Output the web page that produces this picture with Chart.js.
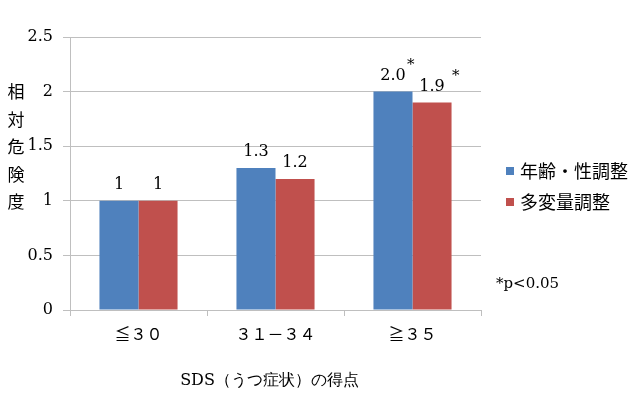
<!DOCTYPE html>
<html><head><meta charset="utf-8">
<script src="https://cdn.jsdelivr.net/npm/chart.js@4"></script>
<style>html,body{margin:0;padding:0;background:#fff}#wrap{width:640px;height:408px}</style>
</head><body><div id="wrap"><canvas id="c" width="640" height="408"></canvas></div>
<script>
const categories = ['≦３０', '３１－３４', '≧３５'];
const seriesNames = ['年齢・性調整', '多変量調整'];
const ageSexValues = [1, 1.3, 2.0];
const multiValues = [1, 1.2, 1.9];
const ageSexLabels = ['1', '1.3', '2.0'];
const multiLabels = ['1', '1.2', '1.9'];
const significant = [false, false, true];
const yTitleChars = ['相', '対', '危', '険', '度'];
const xTitle = 'SDS（うつ症状）の得点';
const noteText = '*p<0.05';
const colors = ['#4F81BD', '#C0504D'];

const serif = "'DejaVu Serif', 'Liberation Serif', serif";
const jp = "'Noto Sans CJK JP', sans-serif";

const extras = {
  id: 'extras',
  afterDatasetsDraw(chart) {
    const ctx = chart.ctx;
    const labelSets = [ageSexLabels, multiLabels];
    ctx.save();
    ctx.fillStyle = '#000';
    ctx.textAlign = 'center';
    ctx.textBaseline = 'middle';
    labelSets.forEach((labels, di) => {
      const meta = chart.getDatasetMeta(di);
      meta.data.forEach((bar, i) => {
        ctx.font = '16px ' + serif;
        const y = bar.y - 16;
        ctx.fillText(labels[i], bar.x, y);
        if (significant[i]) {
          const w = ctx.measureText(labels[i]).width;
          ctx.font = '15px ' + serif;
          const dx = di === 0 ? w / 2 + 5 : w / 2 + 11;
          ctx.fillText('*', bar.x + dx, y - 10);
        }
      });
    });
    // y title stacked
    ctx.font = '17px ' + jp;
    yTitleChars.forEach((ch, i) => ctx.fillText(ch, 16, 92 + i * 27.5));
    // x title
    const area = chart.chartArea;
    ctx.font = '16px ' + serif;
    ctx.fillText(xTitle, (area.left + area.right) / 2 - 6, 381);
    // legend
    ctx.textAlign = 'left';
    seriesNames.forEach((name, i) => {
      const y = 171 + i * 31;
      ctx.fillStyle = colors[i];
      ctx.fillRect(506, y - 4, 8, 8);
      ctx.fillStyle = '#000';
      ctx.font = '18px ' + jp;
      ctx.fillText(name, 520, y);
    });
    ctx.font = '15px ' + serif;
    ctx.fillText(noteText, 496, 284);
    ctx.restore();
  }
};

new Chart(document.getElementById('c'), {
  type: 'bar',
  data: {
    labels: categories,
    datasets: [
      { label: seriesNames[0], data: ageSexValues, backgroundColor: colors[0], categoryPercentage: 0.57, barPercentage: 1 },
      { label: seriesNames[1], data: multiValues, backgroundColor: colors[1], categoryPercentage: 0.57, barPercentage: 1 }
    ]
  },
  options: {
    responsive: false,
    animation: false,
    layout: { padding: { top: 37, right: 159, left: 0, bottom: 0 } },
    plugins: { legend: { display: false }, tooltip: { enabled: false } },
    scales: {
      x: {
        afterFit(s) { s.height = 98; },
        grid: { drawOnChartArea: false, drawTicks: true, tickLength: 6, color: '#bfbfbf', offset: true },
        border: { color: '#bfbfbf' },
        ticks: { color: '#000', font: { family: jp, size: 16 }, padding: 8, maxRotation: 0 }
      },
      y: {
        min: 0, max: 2.5,
        afterFit(s) { s.width = 70; },
        grid: { color: '#bfbfbf', tickLength: 7 },
        border: { color: '#bfbfbf' },
        ticks: { stepSize: 0.5, color: '#000', font: { family: serif, size: 16 }, padding: 10,
                 callback: (v) => String(Math.round(v * 10) / 10) }
      }
    }
  },
  plugins: [extras]
});
</script></body></html>
